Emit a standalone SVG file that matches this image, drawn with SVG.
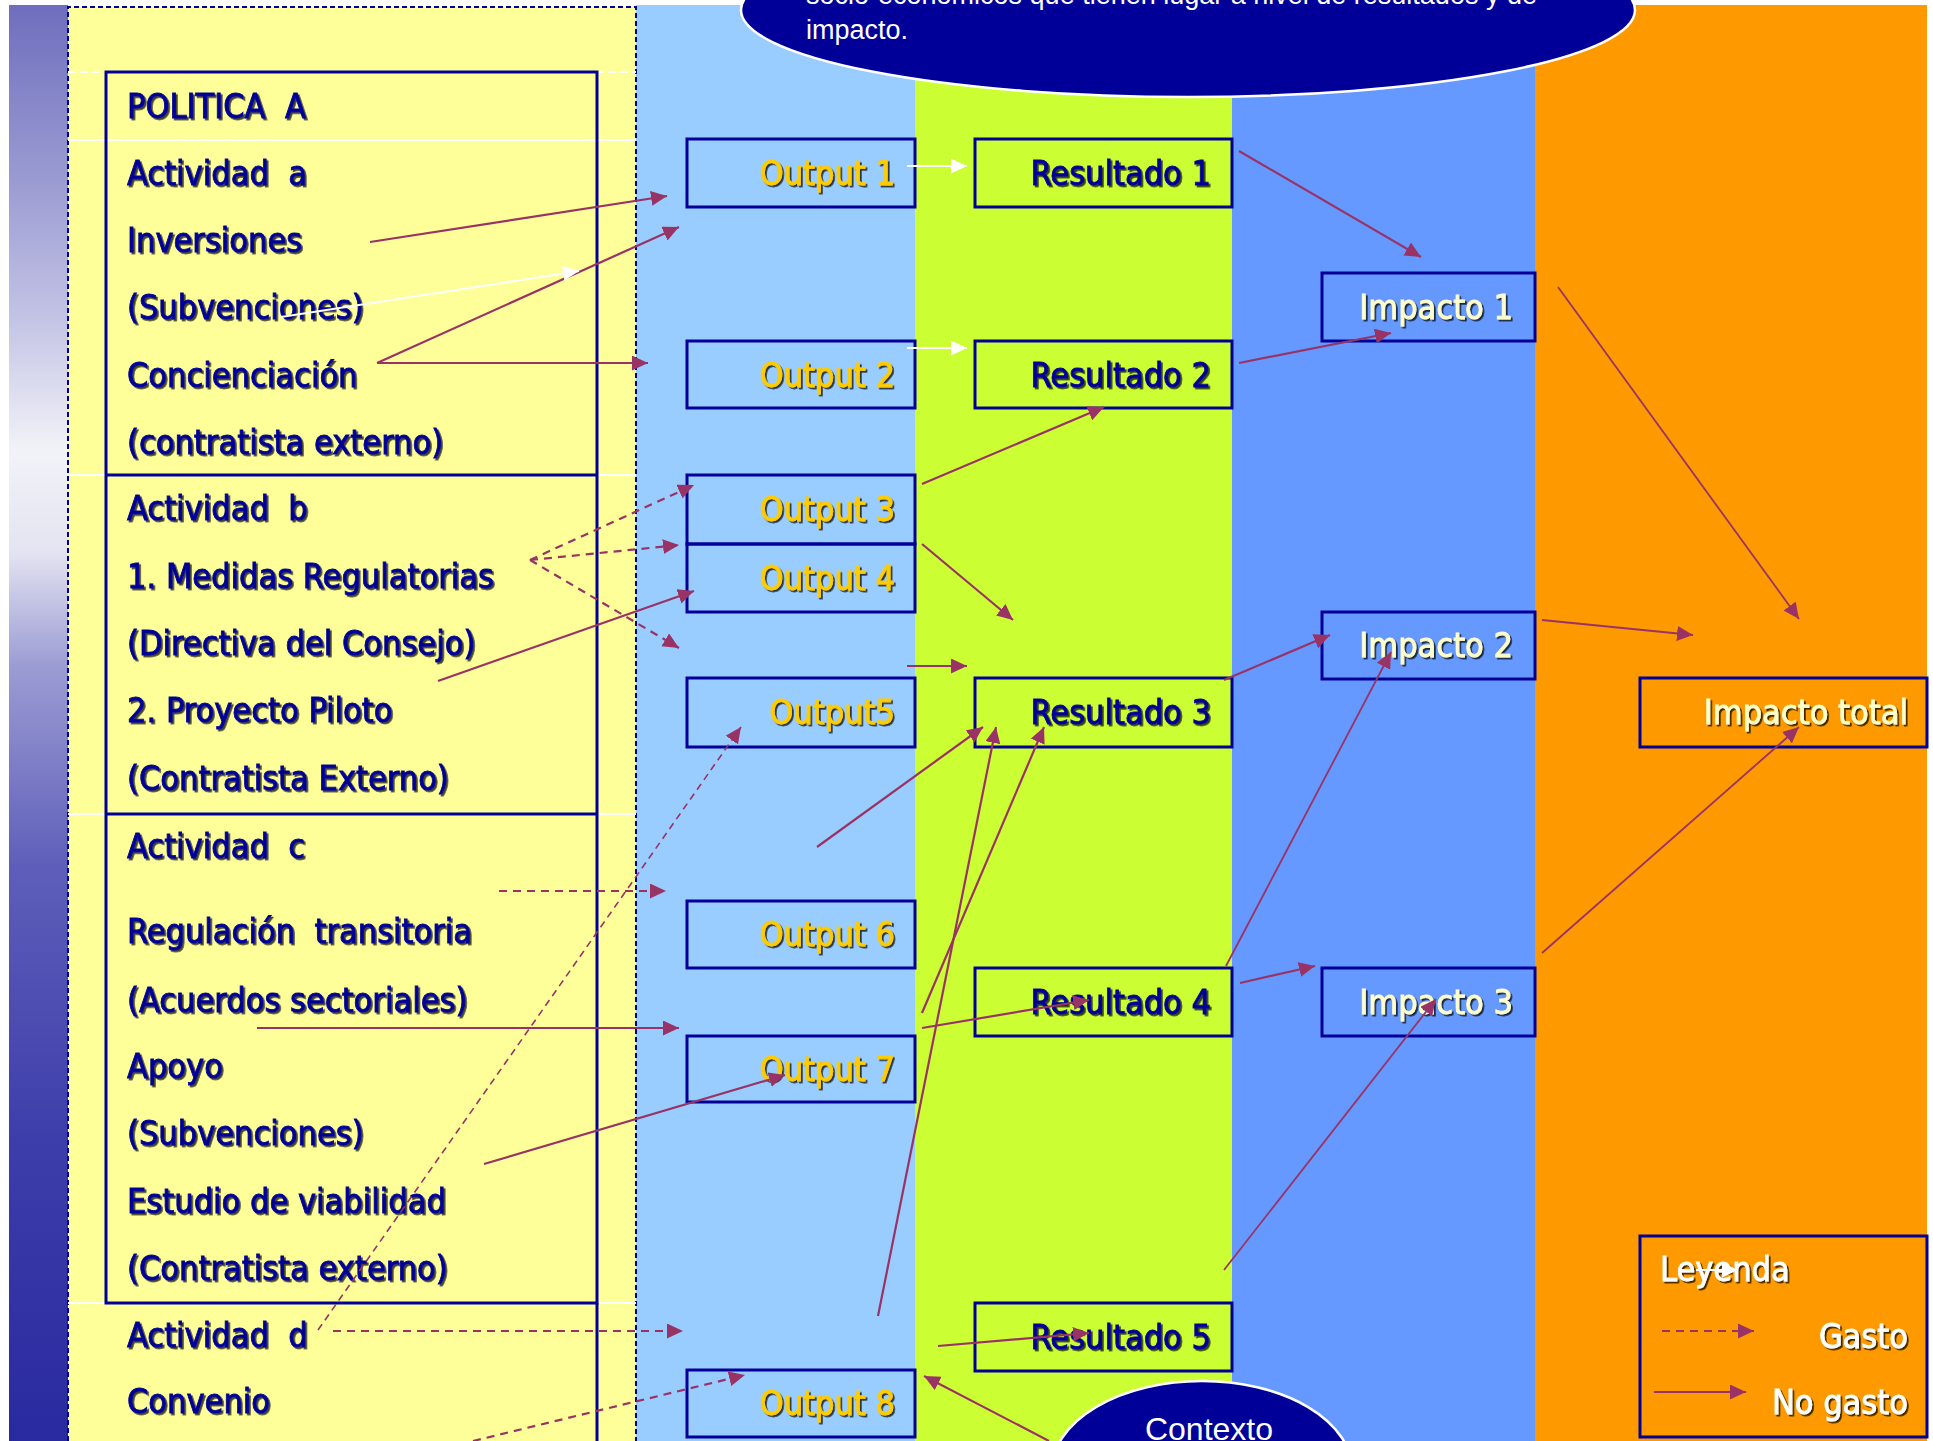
<svg xmlns="http://www.w3.org/2000/svg" width="1933" height="1441" viewBox="0 0 1933 1441">
<style>
.t{font-family:"DejaVu Sans Condensed","DejaVu Sans",sans-serif;font-stretch:condensed;font-size:34px;white-space:pre;filter:url(#sh);stroke-width:0.8}
.nv{fill:#000099;stroke:#000099}
.out{fill:#FFCC00;stroke:#FFCC00;text-anchor:end}
.res{fill:#000099;stroke:#000099;text-anchor:end}
.imp{fill:#FFFFCC;stroke:#FFFFCC;text-anchor:end}
.wt{fill:#FFFFFF;stroke:#FFFFFF}
.box{fill:none;stroke:#000099;stroke-width:3}
.ar{stroke:#993366;stroke-width:2.2;fill:none;marker-end:url(#ah)}
.thin{stroke-width:1.8}
.da{stroke:#993366;stroke-width:2.2;fill:none;stroke-dasharray:8 6;marker-end:url(#ah)}
.fine{stroke-width:1.6;stroke-dasharray:7 5}
.wa{stroke:#FFFFFF;stroke-width:2;fill:none;marker-end:url(#wh)}
.ell{fill:#000099;stroke:#FFFFFF;stroke-width:2.5}
.et{font-family:"Liberation Sans",Arial,sans-serif;fill:#FFFFFF}
</style>
<defs>
<linearGradient id="lg" x1="0" y1="0" x2="0" y2="1">
<stop offset="0" stop-color="#6E6EBE"/>
<stop offset="0.12" stop-color="#9A9AD2"/>
<stop offset="0.22" stop-color="#C4C4E6"/>
<stop offset="0.31" stop-color="#F2F2F8"/>
<stop offset="0.38" stop-color="#E4E4F2"/>
<stop offset="0.46" stop-color="#9C9CD4"/>
<stop offset="0.6" stop-color="#5E5EBA"/>
<stop offset="0.8" stop-color="#3C3CAA"/>
<stop offset="1" stop-color="#2A2AA0"/>
</linearGradient>
<filter id="sh" x="-5%" y="-20%" width="115%" height="150%">
<feDropShadow dx="1.8" dy="1.8" stdDeviation="0.4" flood-color="#000000" flood-opacity="0.75"/>
</filter>
<marker id="ah" markerUnits="userSpaceOnUse" markerWidth="18" markerHeight="16" refX="16" refY="7.5" orient="auto">
<path d="M0,0 L16,7.5 L0,15 Z" fill="#993366"/>
</marker>
<marker id="wh" markerUnits="userSpaceOnUse" markerWidth="18" markerHeight="16" refX="16" refY="7.5" orient="auto">
<path d="M0,0 L16,7.5 L0,15 Z" fill="#FFFFFF"/>
</marker>
</defs>

<g id="background">
<rect x="0" y="0" width="1933" height="1441" fill="#FFFFFF"/>
<rect x="9" y="5" width="59" height="1436" fill="url(#lg)"/>
<rect x="68" y="7" width="568" height="1434" fill="#FFFF99"/>
<rect x="636" y="5" width="279" height="1436" fill="#99CCFF"/>
<rect x="915" y="5" width="317" height="1436" fill="#CCFF33"/>
<rect x="1232" y="5" width="303" height="1436" fill="#6699FF"/>
<rect x="1535" y="5" width="392" height="1436" fill="#FF9900"/>
<path d="M68,1441 V7 H636 V1441" fill="none" stroke="#000099" stroke-width="2" stroke-dasharray="5 3"/>
<line x1="68" y1="72" x2="636" y2="72" stroke="#FFFFFF" stroke-width="2" stroke-dasharray="8 4"/>
<line x1="68" y1="140" x2="636" y2="140" stroke="#FFFFFF" stroke-width="2"/>
<line x1="68" y1="475" x2="636" y2="475" stroke="#FFFFFF" stroke-width="2"/>
<line x1="68" y1="814" x2="636" y2="814" stroke="#FFFFFF" stroke-width="2"/>
<line x1="68" y1="1303" x2="636" y2="1303" stroke="#FFFFFF" stroke-width="2"/>
</g>

<g id="nota-ellipse">
<ellipse class="ell" cx="1188" cy="10" rx="447" ry="87"/>
<text class="et" x="806" y="4" font-size="27">socio-económicos que tienen lugar a nivel de resultados y de</text>
<text class="et" x="806" y="39" font-size="27">impacto.</text>
</g>

<g id="politica-a">
<rect class="box" x="106" y="72" width="491" height="1231"/>
<line x1="106" y1="475" x2="597" y2="475" stroke="#000099" stroke-width="3"/>
<line x1="106" y1="814" x2="597" y2="814" stroke="#000099" stroke-width="3"/>
<line x1="597" y1="1303" x2="597" y2="1441" stroke="#000099" stroke-width="3"/>
<text class="t nv" x="127" y="118">POLITICA  A</text>
<g id="actividad-a">
<text class="t nv" x="127" y="185">Actividad  a</text>
<text class="t nv" x="127" y="252">Inversiones</text>
<text class="t nv" x="127" y="319">(Subvenciones)</text>
<text class="t nv" x="127" y="387">Concienciación</text>
<text class="t nv" x="127" y="454">(contratista externo)</text>
</g>
<g id="actividad-b">
<text class="t nv" x="127" y="520">Actividad  b</text>
<text class="t nv" x="127" y="588">1. Medidas Regulatorias</text>
<text class="t nv" x="127" y="655">(Directiva del Consejo)</text>
<text class="t nv" x="127" y="722">2. Proyecto Piloto</text>
<text class="t nv" x="127" y="790">(Contratista Externo)</text>
</g>
<g id="actividad-c">
<text class="t nv" x="127" y="858">Actividad  c</text>
<text class="t nv" x="127" y="943">Regulación  transitoria</text>
<text class="t nv" x="127" y="1012">(Acuerdos sectoriales)</text>
<text class="t nv" x="127" y="1078">Apoyo</text>
<text class="t nv" x="127" y="1145">(Subvenciones)</text>
<text class="t nv" x="127" y="1213">Estudio de viabilidad</text>
<text class="t nv" x="127" y="1280">(Contratista externo)</text>
</g>
</g>
<g id="actividad-d">
<text class="t nv" x="127" y="1347">Actividad  d</text>
<text class="t nv" x="127" y="1413">Convenio</text>
</g>

<g id="output-1"><rect class="box" x="687" y="139" width="228" height="68"/><text class="t out" x="895" y="185">Output 1</text></g>
<g id="output-2"><rect class="box" x="687" y="341" width="228" height="67"/><text class="t out" x="895" y="387">Output 2</text></g>
<g id="output-3"><rect class="box" x="687" y="475" width="228" height="69"/><text class="t out" x="895" y="521">Output 3</text></g>
<g id="output-4"><rect class="box" x="687" y="544" width="228" height="68"/><text class="t out" x="895" y="590">Output 4</text></g>
<g id="output-5"><rect class="box" x="687" y="678" width="228" height="69"/><text class="t out" x="895" y="724">Output5</text></g>
<g id="output-6"><rect class="box" x="687" y="901" width="228" height="67"/><text class="t out" x="895" y="946">Output 6</text></g>
<g id="output-7"><rect class="box" x="687" y="1036" width="228" height="66"/><text class="t out" x="895" y="1081">Output 7</text></g>
<g id="output-8"><rect class="box" x="687" y="1370" width="228" height="67"/><text class="t out" x="895" y="1415">Output 8</text></g>

<g id="resultado-1"><rect class="box" x="975" y="139" width="257" height="68"/><text class="t res" x="1211" y="185">Resultado 1</text></g>
<g id="resultado-2"><rect class="box" x="975" y="341" width="257" height="67"/><text class="t res" x="1211" y="387">Resultado 2</text></g>
<g id="resultado-3"><rect class="box" x="975" y="678" width="257" height="69"/><text class="t res" x="1211" y="724">Resultado 3</text></g>
<g id="resultado-4"><rect class="box" x="975" y="968" width="257" height="68"/><text class="t res" x="1211" y="1014">Resultado 4</text></g>
<g id="resultado-5"><rect class="box" x="975" y="1303" width="257" height="68"/><text class="t res" x="1211" y="1349">Resultado 5</text></g>

<g id="impacto-1"><rect class="box" x="1322" y="273" width="213" height="68"/><text class="t imp" x="1513" y="319">Impacto 1</text></g>
<g id="impacto-2"><rect class="box" x="1322" y="612" width="213" height="67"/><text class="t imp" x="1513" y="657">Impacto 2</text></g>
<g id="impacto-3"><rect class="box" x="1322" y="968" width="213" height="68"/><text class="t imp" x="1513" y="1014">Impacto 3</text></g>
<g id="impacto-total"><rect class="box" x="1640" y="678" width="287" height="69"/><text class="t imp" x="1908" y="724">Impacto total</text></g>

<g id="contexto">
<ellipse class="ell" cx="1202" cy="1470" rx="150" ry="89"/>
<text class="et" x="1209" y="1440" font-size="32" text-anchor="middle">Contexto</text>
</g>

<g id="leyenda">
<rect class="box" x="1640" y="1236" width="287" height="201"/>
<text class="t wt" x="1660" y="1281">Leyenda</text>
<text class="t wt" x="1908" y="1348" text-anchor="end">Gasto</text>
<text class="t wt" x="1908" y="1414" text-anchor="end">No gasto</text>
<line class="wa" x1="1696" y1="1270" x2="1738" y2="1270"/>
<line class="da" x1="1662" y1="1331" x2="1754" y2="1331"/>
<line class="ar" x1="1654" y1="1392" x2="1746" y2="1392"/>
</g>

<g id="connectors">
<line class="ar" x1="370" y1="242" x2="667" y2="196"/>
<line class="ar" x1="377" y1="363" x2="679" y2="227"/>
<line class="ar" x1="377" y1="363" x2="648" y2="363"/>
<line class="wa" x1="281" y1="317" x2="579" y2="271"/>
<line class="wa" x1="907" y1="166" x2="967" y2="166"/>
<line class="wa" x1="907" y1="348" x2="967" y2="348"/>
<line class="ar" x1="1239" y1="151" x2="1421" y2="257"/>
<line class="ar" x1="1239" y1="363" x2="1391" y2="333"/>
<line class="ar" x1="922" y1="484" x2="1104" y2="407"/>
<line class="ar" x1="922" y1="544" x2="1013" y2="620"/>
<line class="ar" x1="438" y1="681" x2="694" y2="591"/>
<line class="ar" x1="907" y1="666" x2="967" y2="666"/>
<line class="ar" x1="817" y1="847" x2="983" y2="727"/>
<line class="ar" x1="878" y1="1316" x2="996" y2="727"/>
<line class="ar" x1="922" y1="1013" x2="1044" y2="727"/>
<line class="ar" x1="922" y1="1028" x2="1089" y2="1000"/>
<line class="ar" x1="257" y1="1028" x2="679" y2="1028"/>
<line class="ar" x1="484" y1="1164" x2="785" y2="1075"/>
<line class="ar" x1="938" y1="1346" x2="1089" y2="1333"/>
<line class="ar" x1="1049" y1="1441" x2="924" y2="1376"/>
<line class="ar" x1="1224" y1="680" x2="1330" y2="635"/>
<line class="ar thin" x1="1226" y1="966" x2="1391" y2="652"/>
<line class="ar" x1="1240" y1="983" x2="1315" y2="966"/>
<line class="ar thin" x1="1224" y1="1270" x2="1436" y2="999"/>
<line class="ar thin" x1="1558" y1="287" x2="1799" y2="619"/>
<line class="ar" x1="1542" y1="620" x2="1693" y2="635"/>
<line class="ar thin" x1="1542" y1="953" x2="1799" y2="727"/>
<line class="da" x1="530" y1="560" x2="694" y2="485"/>
<line class="da" x1="530" y1="560" x2="679" y2="545"/>
<line class="da" x1="530" y1="560" x2="679" y2="648"/>
<line class="da" x1="499" y1="891" x2="666" y2="891"/>
<line class="da fine" x1="318" y1="1330" x2="741" y2="727"/>
<line class="da" x1="333" y1="1331" x2="683" y2="1331"/>
<line class="da" x1="473" y1="1441" x2="745" y2="1375"/>
</g>
</svg>
